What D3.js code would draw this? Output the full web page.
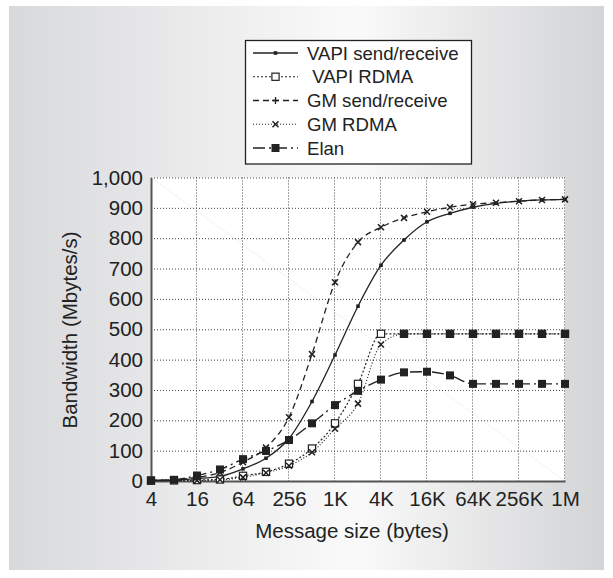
<!DOCTYPE html>
<html>
<head>
<meta charset="utf-8">
<script src="https://cdn.jsdelivr.net/npm/d3@7"></script>
<style>
  html, body { margin: 0; padding: 0; background: #fff; }
  svg { display: block; font-family: "Liberation Sans", Arial, Helvetica, sans-serif; }
</style>
</head>
<body>
<svg id="chart" width="613" height="578"></svg>
<script>
// Message sizes in bytes (one point per doubling)
const messageSizes = [4, 8, 16, 32, 64, 128, 256, 512, 1024, 2048, 4096, 8192,
  16384, 32768, 65536, 131072, 262144, 524288, 1048576];

// Axis ticks
const xTickValues = [4, 16, 64, 256, 1024, 4096, 16384, 65536, 262144, 1048576];
const xTickLabels = ["4", "16", "64", "256", "1K", "4K", "16K", "64K", "256K", "1M"];
const yTickValues = [0, 100, 200, 300, 400, 500, 600, 700, 800, 900, 1000];

// Bandwidth in Mbytes/s for each message size
const vapiSendRecv = [2, 4, 8, 15, 40, 75, 140, 262, 415, 576, 711, 794, 854, 882, 902, 915, 922, 926, 928];
const vapiRdma     = [1, 2, 3, 5, 17, 30, 57, 107, 190, 320, 485, 485, 485, 485, 485, 485, 485, 485, 485];
const gmSendRecv   = [2, 5, 12, 28, 62, 110, 210, 418, 655, 787, 836, 867, 887, 902, 912, 917, 922, 926, 928];
const gmRdma       = [0, 1, 2, 4, 12, 27, 50, 95, 172, 255, 450, 485, 485, 485, 485, 485, 485, 485, 485];
const elan         = [2, 4, 18, 38, 72, 99, 135, 190, 250, 297, 334, 358, 360, 348, 320, 320, 320, 320, 320];

const seriesNames = ["VAPI send/receive", " VAPI RDMA", "GM send/receive", "GM RDMA", "Elan"];
const seriesValues = [vapiSendRecv, vapiRdma, gmSendRecv, gmRdma, elan];

// Drawing styles per series
const seriesStyles = [
  { dash: null,        width: 1.3, mark: "dot",    keyMark: "dot" },
  { dash: "2,2",       width: 1.2, mark: "square", keyMark: "square" },
  { dash: "6,4",       width: 1.3, mark: "cross",  keyMark: "plus" },
  { dash: "1,2",       width: 1.2, mark: "cross",  keyMark: "cross" },
  { dash: "12,4,2,4",  width: 1.4, mark: "block",  keyMark: "block" }
];

const W = 613, H = 578;
const ink = "#222";
const svg = d3.select("#chart");
const defs = svg.append("defs");

const grad = defs.append("linearGradient").attr("id", "panelFill")
  .attr("x1", 0).attr("x2", 1).attr("y1", 0).attr("y2", 0);
grad.append("stop").attr("offset", "0%").attr("stop-color", "#d8d9db");
grad.append("stop").attr("offset", "58%").attr("stop-color", "#fafafa");
grad.append("stop").attr("offset", "100%").attr("stop-color", "#d3d4d6");

svg.append("rect").attr("width", W).attr("height", H).attr("fill", "#fff");
svg.append("rect").attr("x", 9).attr("y", 6).attr("width", 595).attr("height", 564)
  .attr("fill", "url(#panelFill)");

const x = d3.scaleLog().base(2).domain([4, 1048576]).range([151, 565]);
const y = d3.scaleLinear().domain([0, 1000]).range([481, 177.5]);

// Plot area
svg.append("rect")
  .attr("x", x.range()[0]).attr("y", y(1000))
  .attr("width", x.range()[1] - x.range()[0]).attr("height", y(0) - y(1000))
  .attr("fill", "#fff");
svg.append("line")
  .attr("x1", x(4)).attr("y1", y(1000)).attr("x2", x(1048576)).attr("y2", y(0))
  .attr("stroke", "#f3f3f3").attr("stroke-width", 1);

// Dotted grid
const grid = svg.append("g").attr("stroke", "#444").attr("stroke-width", 1)
  .attr("stroke-dasharray", "1,2");
grid.selectAll("line.h").data(yTickValues.filter(v => v > 0)).join("line")
  .attr("class", "h")
  .attr("x1", x(4)).attr("x2", x(1048576))
  .attr("y1", d => y(d) + 0.5).attr("y2", d => y(d) + 0.5);
grid.selectAll("line.v").data(xTickValues.slice(1)).join("line")
  .attr("class", "v")
  .attr("x1", d => x(d) - 0.5).attr("x2", d => x(d) - 0.5)
  .attr("y1", y(1000)).attr("y2", y(0));

// Axes
const yAxis = svg.append("g").attr("transform", `translate(${x(4)},0)`)
  .call(d3.axisLeft(y).tickValues(yTickValues).tickFormat(d3.format(","))
    .tickSize(0).tickSizeOuter(0).tickPadding(8));
const xAxis = svg.append("g").attr("transform", `translate(0,${y(0)})`)
  .call(d3.axisBottom(x).tickValues(xTickValues).tickFormat((d, i) => xTickLabels[i])
    .tickSize(0).tickSizeOuter(0).tickPadding(10));
[yAxis, xAxis].forEach(a => {
  a.select(".domain").attr("stroke", "#555").attr("stroke-width", 2);
  a.selectAll("text").attr("fill", ink).style("font-size", "20.5px")
    .style("font-family", '"Liberation Sans", Arial, sans-serif');
});

// Axis titles
svg.append("text").attr("x", 352).attr("y", 538).attr("text-anchor", "middle")
  .attr("fill", ink).style("font-size", "20.5px").text("Message size (bytes)");
svg.append("text").attr("transform", "translate(77,330) rotate(-90)")
  .attr("text-anchor", "middle").attr("fill", ink).style("font-size", "20.5px")
  .text("Bandwidth (Mbytes/s)");

// Marker shapes
function drawMark(g, kind, cx, cy, filled) {
  if (kind === "dot") {
    g.append("rect").attr("x", cx - 1.8).attr("y", cy - 1.8).attr("width", 3.6).attr("height", 3.6)
      .attr("fill", ink);
  } else if (kind === "square") {
    g.append("rect").attr("x", cx - 3.6).attr("y", cy - 3.6).attr("width", 7.2).attr("height", 7.2)
      .attr("fill", filled ? ink : "#fff").attr("stroke", ink).attr("stroke-width", 1.2);
  } else if (kind === "block") {
    g.append("rect").attr("x", cx - 4).attr("y", cy - 4).attr("width", 8).attr("height", 8)
      .attr("fill", ink);
  } else if (kind === "cross") {
    g.append("path").attr("d", `M${cx - 3},${cy - 3}L${cx + 3},${cy + 3}M${cx - 3},${cy + 3}L${cx + 3},${cy - 3}`)
      .attr("stroke", ink).attr("stroke-width", 1.5).attr("fill", "none");
  } else if (kind === "plus") {
    g.append("path").attr("d", `M${cx - 3.5},${cy}L${cx + 3.5},${cy}M${cx},${cy - 3.5}L${cx},${cy + 3.5}`)
      .attr("stroke", ink).attr("stroke-width", 1.3).attr("fill", "none");
  }
}

// Series lines
const line = d3.line()
  .x((d, i) => x(messageSizes[i]))
  .y(d => y(d))
  .curve(d3.curveMonotoneX);

const linesG = svg.append("g");
seriesValues.forEach((vals, s) => {
  linesG.append("path").datum(vals)
    .attr("d", line)
    .attr("fill", "none")
    .attr("stroke", ink)
    .attr("stroke-width", seriesStyles[s].width)
    .attr("stroke-dasharray", seriesStyles[s].dash);
});

// Series markers; where the two RDMA curves coincide the square and cross merge into a solid block
const marksG = svg.append("g");
seriesValues.forEach((vals, s) => {
  const g = marksG.append("g");
  vals.forEach((v, i) => {
    const merged = s === 1 && Math.abs(vapiRdma[i] - gmRdma[i]) < 2 && v > 100;
    drawMark(g, seriesStyles[s].mark, x(messageSizes[i]), y(v), merged);
  });
});

// Legend
const legend = svg.append("g");
legend.append("rect").attr("x", 245.5).attr("y", 40.5).attr("width", 226).attr("height", 123.5)
  .attr("fill", "#fff").attr("stroke", ink).attr("stroke-width", 1.3);
seriesNames.forEach((name, s) => {
  const cy = 53 + s * 23.75;
  const row = legend.append("g");
  row.append("line").attr("x1", 253).attr("x2", 298).attr("y1", cy).attr("y2", cy)
    .attr("stroke", ink).attr("stroke-width", seriesStyles[s].width)
    .attr("stroke-dasharray", seriesStyles[s].dash);
  drawMark(row, seriesStyles[s].keyMark, 275.5, cy, false);
  row.append("text").attr("x", 307).attr("y", cy + 6.5).attr("fill", ink)
    .style("font-size", "18.6px").style("white-space", "pre").attr("xml:space", "preserve")
    .text(name);
});
</script>
</body>
</html>
